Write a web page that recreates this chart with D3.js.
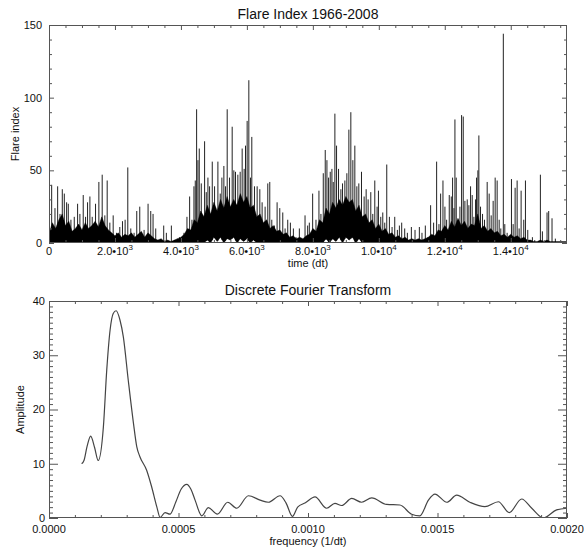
<!DOCTYPE html>
<html>
<head>
<meta charset="utf-8">
<script src="https://cdn.jsdelivr.net/npm/d3@7/dist/d3.min.js"></script>
<style>
  body { margin: 0; background: #fff; }
  text { font-family: "Liberation Sans", Arial, Helvetica, sans-serif; fill: #111; }
</style>
</head>
<body>
<svg id="chart" width="584" height="550"></svg>
<script>
// ---- Flare index 1966-2008 (daily, t in days) ----
const nDays = 15706;
// dense band of daily values on a 100-day grid: upper edge and lower edge
const bandStep = 100;
const bandTop = [
  6,14,10,16,20,12,15,8,10,13, 9,14,10,12,15,11,18,12,9,7,
  5,7,4,6,5,7,4,6,8,4, 7,5,3,2,3,1,2,1,2,3,
  4,6,10,9,16,14,22,18,26,20, 28,22,30,24,32,25,30,26,34,28,
  32,24,26,18,20,14,16,10,12,8, 9,6,7,4,5,3,4,3,5,6,
  10,8,16,14,24,20,28,24,30,26, 32,28,30,22,26,18,20,14,16,10,
  13,8,10,6,7,4,5,3,4,2, 3,2,3,2,3,4,6,5,9,8,
  12,9,15,11,17,12,15,10,13,12, 20,10,12,8,10,7,8,5,6,4,
  6,4,5,3,4,2,2,1,1,2, 1,2,1,1,1,1,1,1];
const bandFloor = [
  0,0,0,0,0,0,0,0,0,0, 0,0,0,0,0,0,0,0,0,0,
  0,0,0,0,0,0,0,0,0,0, 0,0,0,0,0,0,0,0,0,0,
  0,0,0,0,0,0,0,0,2,0, 4,1,4,0,3,2,4,0,3,1,
  3,0,2,0,0,0,0,0,0,0, 0,0,0,0,0,0,0,0,0,0,
  0,0,0,0,3,0,3,1,4,0, 4,2,4,0,3,0,0,0,0,0,
  0,0,0,0,0,0,0,0,0,0, 0,0,0,0,0,0,0,0,0,0,
  0,0,0,0,0,0,0,0,0,0, 0,0,0,0,0,0,0,0,0,0,
  0,0,0,0,0,0,0,0,0,0, 0,0,0,0,0,0,0,0];
// individual flare days standing out of the band: [day, index]
const spikes = [
  [81,40],[181,24],[262,39],[333,20],[403,37],[464,34],[534,28],[585,27],[665,16],[766,18],
  [867,27],[937,20],[1038,33],[1109,18],[1169,28],[1240,32],[1310,18],[1411,27],[1512,42],[1613,47],
  [1693,19],[1764,43],[1845,14],[1946,19],[2046,7],[2147,11],[2228,15],[2308,16],[2389,52],[2480,10],
  [2580,7],[2661,22],[2752,25],[2883,9],[3004,27],[3085,22],[3155,20],[3236,10],[3478,12],[3558,7],
  [3710,12],[3891,3],
  [3961,4],[4092,7],[4183,18],[4264,32],[4334,16],[4395,39],[4435,43],[4476,92],[4516,57],[4556,65],
  [4617,41],[4718,70],[4768,35],[4819,45],[4869,39],[4950,56],[5020,39],[5121,56],[5192,34],[5242,45],
  [5302,53],[5353,39],[5403,92],[5474,45],[5554,80],[5605,50],[5655,49],[5726,47],[5796,49],[5857,65],
  [5917,51],[5958,67],[6008,84],[6059,112],[6109,45],[6149,73],[6230,39],[6311,39],[6392,37],[6462,28],
  [6553,25],[6634,41],[6694,42],[6755,16],[6835,12],[6916,28],[6997,24],[7088,21],[7158,10],[7239,16],
  [7319,14],[7410,10],[7491,4],[7591,10],[7763,19],
  [7843,12],[7893,14],[7994,34],[8095,16],[8185,36],[8245,20],[8316,48],[8376,64],[8427,57],[8477,45],
  [8527,49],[8578,51],[8618,42],[8668,89],[8719,67],[8779,51],[8850,37],[8900,41],[8971,43],[9031,48],
  [9092,78],[9152,90],[9213,57],[9273,67],[9334,39],[9394,41],[9475,49],[9555,32],[9616,37],[9676,30],
  [9757,35],[9817,20],[9878,43],[9948,25],[9989,36],[10059,18],[10120,21],[10180,14],[10241,54],[10321,18],
  [10402,11],[10483,18],[10563,9],[10624,12],[10694,14],[10785,10],[10866,7],[10987,11],[11098,9],[11229,11],
  [11309,7],[11410,12],[11491,4],[11571,26],[11662,14],[11753,56],
  [11824,13],[11874,34],[11945,43],[12005,25],[12056,16],[12136,33],[12197,32],[12237,45],[12278,24],[12308,85],
  [12348,45],[12409,16],[12459,25],[12510,88],[12560,87],[12610,29],[12681,30],[12731,26],[12782,39],[12832,33],
  [12883,18],[12933,30],[12963,45],[13004,50],[13034,74],[13084,25],[13145,20],[13205,16],[13286,42],[13346,34],
  [13407,19],[13467,29],[13528,45],[13588,43],[13649,16],[13699,10],[13775,144],[13820,13],[13891,7],[14022,44],
  [14073,13],[14133,38],[14194,43],[14254,10],[14315,36],[14395,16],[14446,43],[14516,9],[14657,4],[14728,2],
  [14899,47],[14960,8],[15101,21],[15151,22],[15252,17],[15353,3]
];
const timeTicks = [0, 2000, 4000, 6000, 8000, 10000, 12000, 14000];
const timeTickLabels = [["0",""],["2.0\u202210","3"],["4.0\u202210","3"],["6.0\u202210","3"],
                        ["8.0\u202210","3"],["1.0\u202210","4"],["1.2\u202210","4"],["1.4\u202210","4"]];
const indexTicks = [0, 50, 100, 150];

// ---- Discrete Fourier transform amplitude ----
const dftFreq = [0.000126,0.000135,0.000147,0.000161,0.000176,0.000190,0.000210,0.000223,0.000236,0.000248,
                 0.000259,0.000274,0.000287,0.000306,0.000326,0.000339,0.000351,0.000377,0.000396,0.000416,
                 0.000429,0.000448,0.000467,0.000490,0.000510,0.000532,0.000548,0.000564,0.000590,0.000615,
                 0.000650,0.000690,0.000725,0.000770,0.000815,0.000847,0.000892,0.000915,0.000940,0.000960,
                 0.000990,0.001027,0.001072,0.001104,0.001130,0.001169,0.001207,0.001246,0.001304,0.001355,
                 0.001400,0.001432,0.001465,0.001490,0.001536,0.001574,0.001625,0.001683,0.001735,0.001777,
                 0.001825,0.001864,0.001909,0.001960,0.002000];
const dftAmp  = [10.0,10.6,13.2,15.1,13.0,10.6,16.8,27.3,34.7,37.7,
                 38.2,36.5,33.4,25.4,17.5,13.1,11.3,8.8,5.8,2.1,
                 0.1,1.0,0.7,3.0,5.3,6.2,5.3,3.3,0.4,1.9,
                 0.7,2.9,1.8,4.1,3.3,2.9,4.1,2.8,0.3,2.0,
                 2.8,3.9,1.8,2.7,2.3,3.6,2.9,3.7,2.5,2.4,
                 0.7,0.4,3.3,4.4,2.9,4.2,2.9,2.1,3.0,1.0,
                 3.5,1.8,0.0,1.5,1.8];
const freqTicks = [0, 0.0005, 0.0010, 0.0015, 0.0020];
const freqTickLabels = ["0.0000","0.0005","0.0010","0.0015","0.0020"];
const ampTicks = [0, 10, 20, 30, 40];

const svg = d3.select("#chart");
const frameColor = "#555";

// panel geometry
const P1 = { left: 49, right: 567, top: 25, bottom: 243 };
const P2 = { left: 49, right: 567, top: 301, bottom: 518 };

const xT = d3.scaleLinear().domain([0, nDays]).range([P1.left, P1.right]);
const yT = d3.scaleLinear().domain([0, 150]).range([P1.bottom, P1.top]);
const xF = d3.scaleLinear().domain([0, 0.002]).range([P2.left, P2.right]);
const yF = d3.scaleLinear().domain([0, 40]).range([P2.bottom, P2.top]);

// box axes with inward ticks on all four sides
function boxAxes(P, x, y, xMajor, xMinor, yMajor, yMinor, xLen, yLen) {
  const g = svg.append("g").attr("color", frameColor);
  const add = (axis, tx, ty) => {
    const a = g.append("g").attr("transform", `translate(${tx},${ty})`).call(axis);
    a.select(".domain").remove();
    a.selectAll("text").remove();
    a.selectAll("line").attr("stroke-width", 1);
  };
  add(d3.axisBottom(x).tickValues(xMajor).tickSize(-xLen[0]), 0, P.bottom);
  add(d3.axisBottom(x).tickValues(xMinor).tickSize(-xLen[1]), 0, P.bottom);
  add(d3.axisTop(x).tickValues(xMajor).tickSize(-xLen[0]), 0, P.top);
  add(d3.axisTop(x).tickValues(xMinor).tickSize(-xLen[1]), 0, P.top);
  add(d3.axisLeft(y).tickValues(yMajor).tickSize(-yLen[0]), P.left, 0);
  add(d3.axisLeft(y).tickValues(yMinor).tickSize(-yLen[1]), P.left, 0);
  add(d3.axisRight(y).tickValues(yMajor).tickSize(-yLen[0]), P.right, 0);
  add(d3.axisRight(y).tickValues(yMinor).tickSize(-yLen[1]), P.right, 0);
  g.append("rect")
    .attr("x", P.left + 0.5).attr("y", P.top + 0.5)
    .attr("width", P.right - P.left - 1).attr("height", P.bottom - P.top - 1)
    .attr("fill", "none").attr("stroke", frameColor).attr("stroke-width", 1);
}

// ---------- top panel: flare index ----------
svg.append("clipPath").attr("id", "clip1").append("rect")
  .attr("x", P1.left).attr("y", P1.top).attr("width", P1.right - P1.left).attr("height", P1.bottom - P1.top);

const bandData = bandTop.map((v, i) => ({ day: Math.min(i * bandStep, nDays), top: v, floor: bandFloor[i] }));
const floorAt = day => {
  const i = Math.min(Math.floor(day / bandStep), bandData.length - 2);
  const a = bandData[i], b = bandData[i + 1];
  const t = (day - a.day) / (b.day - a.day);
  return a.floor + (b.floor - a.floor) * t;
};

const g1 = svg.append("g").attr("clip-path", "url(#clip1)");
g1.selectAll("line.spike").data(spikes).join("line")
  .attr("class", "spike")
  .attr("x1", d => xT(d[0])).attr("x2", d => xT(d[0]))
  .attr("y1", d => yT(floorAt(d[0]))).attr("y2", d => yT(d[1]))
  .attr("stroke", "#222").attr("stroke-width", 1);
g1.append("path").datum(bandData)
  .attr("d", d3.area().x(d => xT(d.day)).y0(d => yT(d.floor)).y1(d => yT(d.top)))
  .attr("fill", "#000").attr("stroke", "#000").attr("stroke-width", 0.4);

boxAxes(P1, xT, yT, timeTicks, d3.range(500, nDays, 500).filter(v => v % 2000 !== 0),
        indexTicks, d3.range(10, 150, 10).filter(v => v % 50 !== 0), [5, 3], [5, 3]);

// tick labels
svg.append("g").selectAll("text").data(indexTicks).join("text")
  .attr("x", P1.left - 7).attr("y", d => yT(d)).attr("dy", "0.36em")
  .attr("text-anchor", "end").attr("font-size", 11).text(d => d);

const tl = svg.append("g").selectAll("text").data(timeTicks).join("text")
  .attr("x", d => xT(d)).attr("y", P1.bottom + 12)
  .attr("text-anchor", "middle").attr("font-size", 11);
tl.each(function (d, i) {
  const [m, e] = timeTickLabels[i];
  const t = d3.select(this);
  t.append("tspan").text(m);
  if (e) t.append("tspan").attr("dy", -5).attr("font-size", 8).text(e);
});

svg.append("text").attr("x", (P1.left + P1.right) / 2).attr("y", 19)
  .attr("text-anchor", "middle").attr("font-size", 14).text("Flare Index 1966-2008");
svg.append("text").attr("x", (P1.left + P1.right) / 2).attr("y", 267)
  .attr("text-anchor", "middle").attr("font-size", 11).text("time (dt)");
svg.append("text").attr("transform", `translate(19,${(P1.top + P1.bottom) / 2}) rotate(-90)`)
  .attr("text-anchor", "middle").attr("font-size", 11).text("Flare index");

// ---------- bottom panel: DFT ----------
svg.append("clipPath").attr("id", "clip2").append("rect")
  .attr("x", P2.left).attr("y", P2.top).attr("width", P2.right - P2.left).attr("height", P2.bottom - P2.top);

const dft = dftFreq.map((f, i) => [f, dftAmp[i]]);
svg.append("path").datum(dft)
  .attr("clip-path", "url(#clip2)")
  .attr("d", d3.line().x(d => xF(d[0])).y(d => yF(d[1])).curve(d3.curveMonotoneX))
  .attr("fill", "none").attr("stroke", "#444").attr("stroke-width", 1.2);

boxAxes(P2, xF, yF, freqTicks, d3.range(1, 20).filter(k => k % 5 !== 0).map(k => k * 0.0001),
        ampTicks, d3.range(1, 40).filter(v => v % 10 !== 0), [5, 3], [9, 4]);

svg.append("g").selectAll("text").data(ampTicks).join("text")
  .attr("x", P2.left - 4).attr("y", d => yF(d)).attr("dy", "0.36em")
  .attr("text-anchor", "end").attr("font-size", 11).text(d => d);
svg.append("g").selectAll("text").data(freqTicks).join("text")
  .attr("x", d => xF(d)).attr("y", P2.bottom + 15)
  .attr("text-anchor", "middle").attr("font-size", 11).text((d, i) => freqTickLabels[i]);

svg.append("text").attr("x", (P2.left + P2.right) / 2).attr("y", 295)
  .attr("text-anchor", "middle").attr("font-size", 14).text("Discrete Fourier Transform");
svg.append("text").attr("x", (P2.left + P2.right) / 2).attr("y", 545)
  .attr("text-anchor", "middle").attr("font-size", 11).text("frequency (1/dt)");
svg.append("text").attr("transform", `translate(24,${(P2.top + P2.bottom) / 2}) rotate(-90)`)
  .attr("text-anchor", "middle").attr("font-size", 11).text("Amplitude");
</script>
</body>
</html>
